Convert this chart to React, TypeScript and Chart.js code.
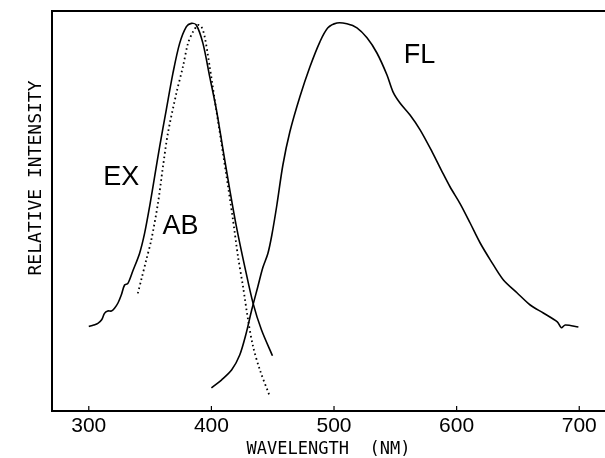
import { useEffect, useRef } from "react";
import { Chart, registerables } from "chart.js";

Chart.register(...registerables);

// ---- data (wavelength in nm, relative intensity 0..100) ----
const wavelengthTicks = [300, 400, 500, 600, 700];

const exWavelength = [300.0, 304.0, 307.4, 310.5, 312.8, 315.5, 318.5, 321.0, 323.8, 326.5, 329.2, 331.9, 335.9, 341.4, 345.5, 349.6, 353.7, 357.8, 363.2, 368.6, 374.1, 379.6, 383.7, 387.7, 393.1, 398.6, 404.1, 409.5, 415.0, 420.4, 427.2, 434.0, 440.8, 449.8];
const exIntensity = [21.1, 21.5, 21.9, 22.8, 24.4, 25.0, 25.0, 25.7, 27.0, 29.0, 31.5, 31.9, 35.0, 39.4, 44.4, 51.1, 58.6, 66.1, 75.3, 84.4, 91.9, 96.1, 96.9, 96.5, 91.9, 83.6, 75.3, 65.3, 55.3, 46.1, 36.1, 26.9, 20.3, 13.8];

const abWavelength = [340.0, 342.8, 346.9, 351.0, 356.4, 360.5, 364.5, 371.4, 376.8, 380.9, 385.0, 389.1, 391.8, 394.5, 398.6, 402.7, 408.2, 413.6, 417.6, 421.7, 425.8, 429.9, 434.0, 439.5, 447.2];
const abIntensity = [29.4, 32.8, 37.8, 42.8, 51.9, 61.1, 69.4, 79.4, 86.1, 91.9, 94.8, 96.5, 96.1, 93.6, 86.1, 77.8, 66.9, 56.1, 47.8, 38.6, 31.1, 22.8, 16.1, 10.3, 4.0];

const flWavelength = [400.0, 408.4, 416.6, 423.1, 428.0, 432.9, 437.8, 441.9, 446.0, 449.3, 453.4, 458.3, 464.0, 472.1, 480.3, 488.5, 495.0, 502.4, 510.5, 518.7, 526.9, 535.0, 543.2, 548.1, 553.8, 562.0, 570.2, 580.0, 588.2, 594.7, 602.9, 611.0, 619.2, 627.4, 638.0, 649.4, 660.0, 670.7, 682.1, 685.4, 688.6, 699.3];
const flIntensity = [5.8, 7.8, 10.3, 14.0, 19.0, 25.3, 31.0, 35.8, 39.3, 44.0, 51.5, 61.5, 69.8, 78.5, 86.0, 92.3, 95.8, 97.0, 96.8, 95.8, 93.3, 89.5, 84.0, 79.8, 77.0, 74.0, 70.3, 64.8, 59.8, 56.0, 51.8, 47.0, 42.0, 37.8, 32.8, 29.5, 26.5, 24.5, 22.3, 20.8, 21.5, 21.0];

const curveLabels = ["EX", "AB", "FL"];
const curveLabelWavelength = [326.5, 374.8, 569.8];
const curveLabelIntensity = [58.3, 46.1, 88.8];

const xTitle = "WAVELENGTH  (NM)";
const yTitle = "RELATIVE INTENSITY";

const toPoints = (xs: number[], ys: number[]) => xs.map((x, i) => ({ x, y: ys[i] }));

const decorPlugin = {
  id: "decor",
  afterDraw(chart: any) {
    const { ctx, chartArea, scales } = chart;
    const xs = scales.x;
    const ys = scales.y;
    ctx.save();
    ctx.strokeStyle = "#000";
    ctx.fillStyle = "#000";
    // top frame line
    ctx.lineWidth = 2;
    ctx.beginPath();
    ctx.moveTo(chartArea.left - 1, chartArea.top);
    ctx.lineTo(chart.width, chartArea.top);
    ctx.stroke();
    // inward tick marks
    ctx.lineWidth = 1.2;
    xs.ticks.forEach((t: any) => {
      const px = xs.getPixelForValue(t.value);
      ctx.beginPath();
      ctx.moveTo(px, chartArea.bottom);
      ctx.lineTo(px, chartArea.bottom - 5);
      ctx.stroke();
    });
    // curve labels
    ctx.font = '27px "Liberation Sans", Arial, sans-serif';
    ctx.textAlign = "center";
    ctx.textBaseline = "middle";
    curveLabels.forEach((lab, i) => {
      ctx.fillText(lab, xs.getPixelForValue(curveLabelWavelength[i]), ys.getPixelForValue(curveLabelIntensity[i]));
    });
    // y title
    ctx.font = '18px "DejaVu Sans Mono", monospace';
    ctx.translate(chartArea.left - 16, chartArea.top + 167);
    ctx.rotate(-Math.PI / 2);
    ctx.fillText(yTitle, 0, 0);
    ctx.restore();
  },
};

export default function App() {
  const ref = useRef<HTMLCanvasElement | null>(null);
  useEffect(() => {
    if (!ref.current) return;
    const line = (data: { x: number; y: number }[], dash: number[] = [], width = 1.6) => ({
      data,
      borderColor: "#000",
      borderWidth: width,
      borderDash: dash,
      pointRadius: 0,
      tension: 0.3,
      fill: false,
    });
    const chart = new Chart(ref.current, {
      type: "line",
      data: {
        datasets: [
          { label: "EX", ...line(toPoints(exWavelength, exIntensity)) },
          { label: "AB", ...line(toPoints(abWavelength, abIntensity), [1.6, 3], 1.8) },
          { label: "FL", ...line(toPoints(flWavelength, flIntensity)) },
        ],
      },
      options: {
        animation: false,
        responsive: false,
        maintainAspectRatio: false,
        layout: { padding: { left: 52, top: 11, right: 0, bottom: 0 } },
        plugins: { legend: { display: false }, tooltip: { enabled: false } },
        scales: {
          x: {
            type: "linear",
            min: 270,
            max: 721,
            afterBuildTicks: (scale: any) => {
              scale.ticks = wavelengthTicks.map((v) => ({ value: v }));
            },
            grid: { display: false, drawTicks: false },
            border: { display: true, color: "#000", width: 2 },
            ticks: {
              color: "#000",
              padding: 4.5,
              font: { family: '"Liberation Sans", Arial, sans-serif', size: 21, lineHeight: 1 },
            },
            title: {
              display: true,
              text: xTitle,
              color: "#000",
              padding: { top: 0, bottom: 0 },
              font: { family: '"DejaVu Sans Mono", monospace', size: 17, lineHeight: 1 },
            },
          },
          y: {
            type: "linear",
            min: 0,
            max: 100,
            grid: { display: false, drawTicks: false },
            border: { display: true, color: "#000", width: 2 },
            ticks: { display: false },
          },
        },
      },
      plugins: [decorPlugin],
    });
    return () => chart.destroy();
  }, []);
  return (
    <div style={{ position: "absolute", left: 0, top: 0, width: 605, height: 458, background: "#fff" }}>
      <canvas ref={ref} width={605} height={458} style={{ width: 605, height: 458, display: "block" }} />
    </div>
  );
}
